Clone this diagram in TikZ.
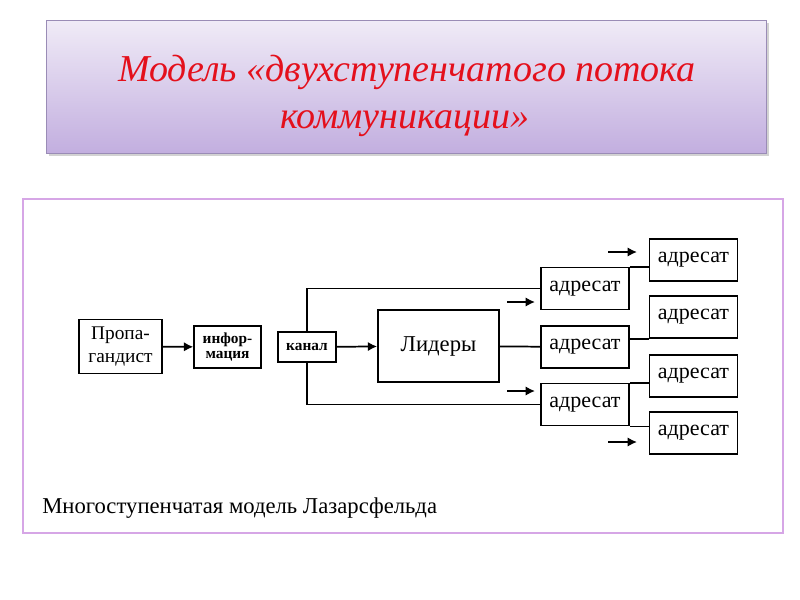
\documentclass[tikz,border=0pt]{standalone}
\usepackage{fontspec}
\setmainfont{Liberation Serif}
\usetikzlibrary{positioning,shadows,arrows.meta}

\definecolor{titlered}{HTML}{E4101C}
\definecolor{framepink}{HTML}{D6A6E6}
\definecolor{titleedge}{HTML}{9A8CB6}
\definecolor{titletop}{HTML}{F0EBF7}
\definecolor{titlebot}{HTML}{C2AEDF}

\tikzset{
  blk/.style={draw,line width=1.3pt,inner sep=1pt,align=center,font=\fontsize{13.5}{13.5}\selectfont},
  adrbox/.style={blk,minimum width=66pt,minimum height=31.5pt,font=\fontsize{16.5}{15}\selectfont},
  link/.style={line width=1.3pt},
  arr/.style={link,-{Latex[length=7pt,width=7pt]}},
}

\begin{document}
\begin{tikzpicture}[x=0.75pt,y=-0.75pt]
\useasboundingbox (0,0) rectangle (800,600);
% title
\fill[white] (0,0) rectangle (800,600);
\node[draw=titleedge,line width=1pt,top color=titletop,bottom color=titlebot,
  drop shadow={opacity=0.35,shadow xshift=2pt,shadow yshift=-2pt},
  minimum width=540pt,minimum height=100pt] (title) at (406.5,87) {};
\node[font=\fontsize{28.5}{28}\selectfont\itshape,text=titlered] (t1) at (407,72) {Модель «двухступенчатого потока};
\node[font=\fontsize{28.5}{28}\selectfont\itshape,text=titlered] (t2) at (405,124) {коммуникации»};
% frame
\draw[framepink,thick] (23,199) rectangle (783,533);
% scheme
\node[blk,minimum width=62pt,minimum height=40.5pt,font=\fontsize{14.5}{17}\selectfont] (prop) at (120.5,346.5) {Пропа-\\гандист};
\node[blk,minimum width=50pt,minimum height=31.5pt,font=\fontsize{11.5}{11.5}\selectfont\bfseries] (info) at (227.5,347) {инфор-\\мация};
\node[blk,minimum width=44pt,minimum height=23pt,font=\fontsize{11.5}{11.5}\selectfont\bfseries] (kanal) at (307,347) {канал};
\node[blk,minimum width=90.75pt,minimum height=54pt,font=\fontsize{17}{17}\selectfont] (lead) at (438.5,346) {Лидеры};
\node[adrbox] (a1) at (585,288.5) {адресат};
\node[adrbox] (a2) at (585,347) {адресат};
\node[adrbox] (a3) at (585,404.5) {адресат};
\node[adrbox] (b1) at (693.5,260) {адресат};
\node[adrbox] (b2) at (693.5,317) {адресат};
\node[adrbox] (b3) at (693.5,376) {адресат};
\node[adrbox] (b4) at (693.5,433) {адресат};
\draw[arr] (prop) -- (info);
\draw[arr] (kanal) -- (lead);
\draw[link] (kanal.north) |- (a1.west);
\draw[link] (kanal.south) |- (a3.west);
\draw[link] (lead) -- (a2);
\draw[link] (a1.north east) -- (a1.north east -| b1.west);
\draw[link] (b2.south west) -- (b2.south west -| a2.east);
\draw[link] (a3.north east) -- (a3.north east -| b3.west);
\draw[link] (a3.south east) -- (a3.south east -| b4.west);
% free arrows
\coordinate (p1) at (608,252); \coordinate (q1) at (637,252);
\coordinate (p2) at (507,302); \coordinate (q2) at (535,302);
\coordinate (p3) at (507,391); \coordinate (q3) at (535,391);
\coordinate (p4) at (608,442); \coordinate (q4) at (637,442);
\foreach \i in {1,...,4} \draw[arr] (p\i) -- (q\i);
% caption
\node[anchor=base west,inner sep=0pt,font=\fontsize{17}{17}\selectfont] (cap) at (42,513) {Многоступенчатая модель Лазарсфельда};
\end{tikzpicture}
\end{document}
